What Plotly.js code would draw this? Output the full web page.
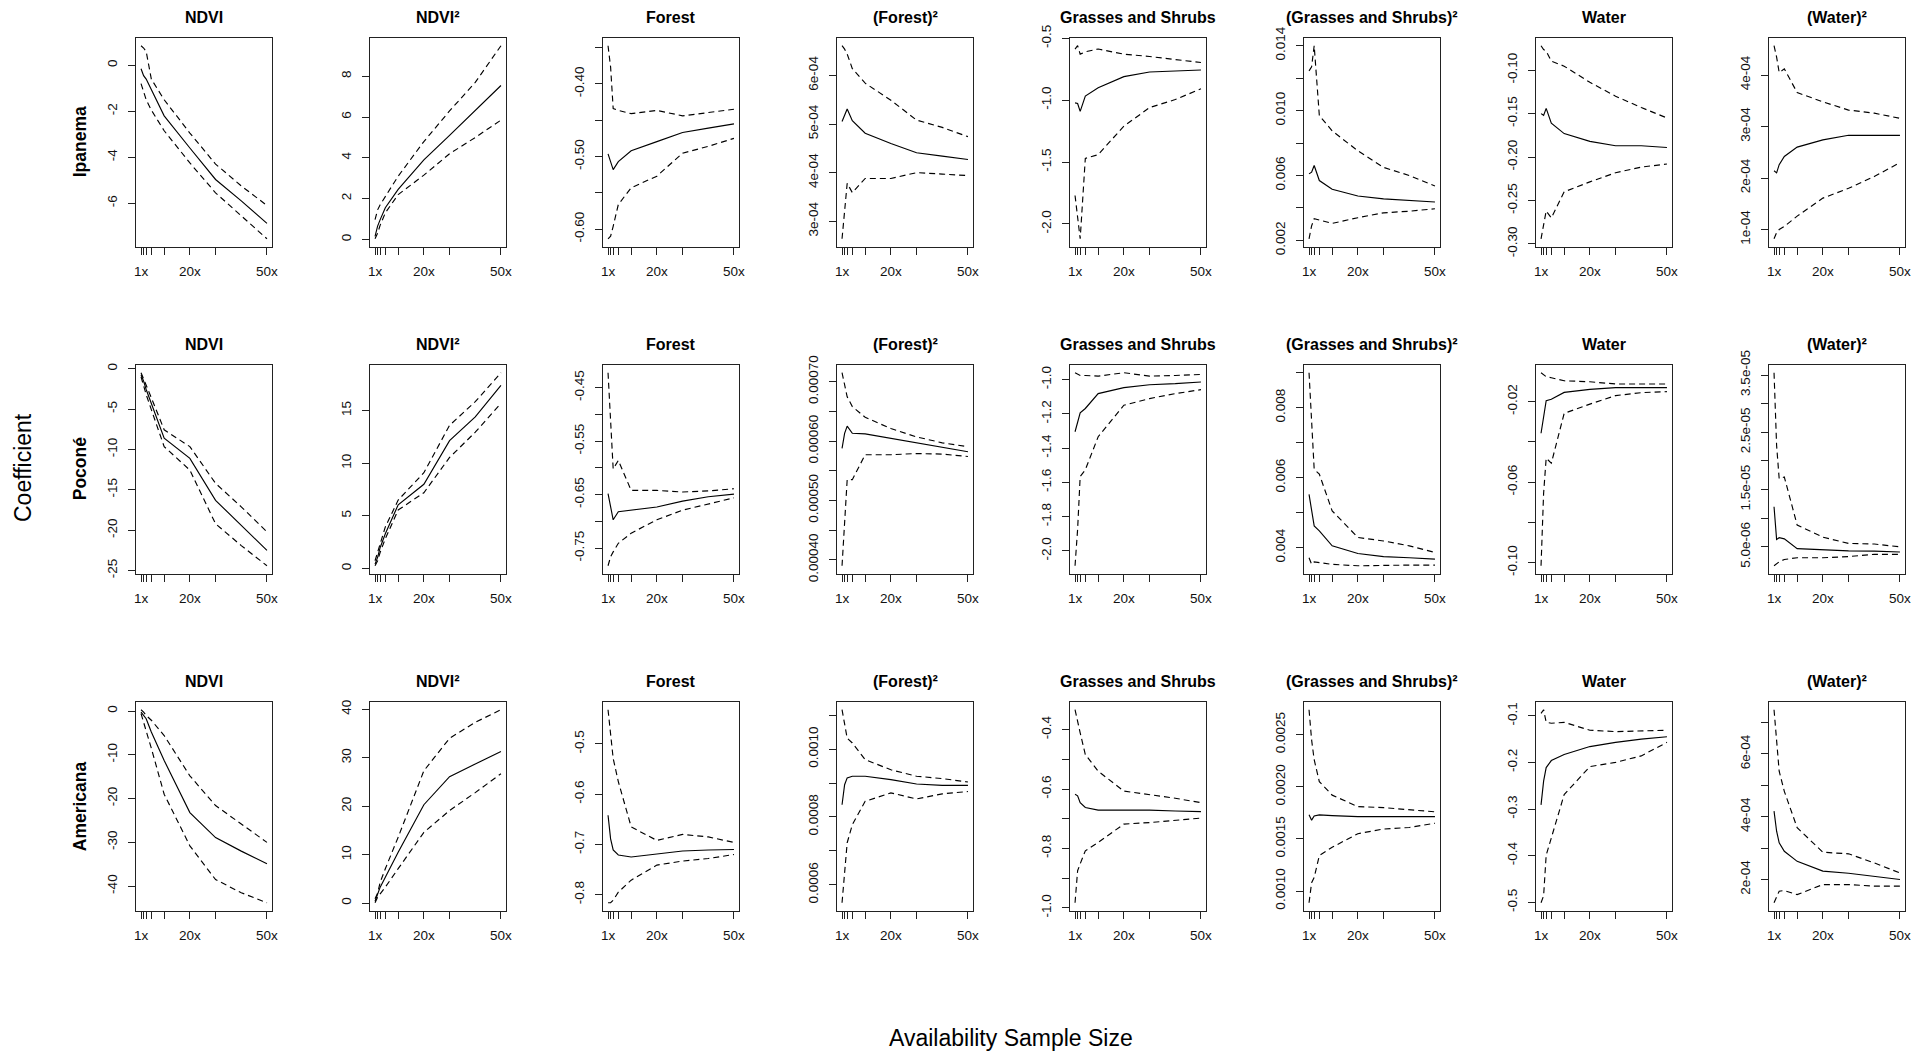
<!DOCTYPE html>
<html><head><meta charset="utf-8">
<script src="https://cdn.plot.ly/plotly-3.0.1.min.js"></script>
<style>html,body{margin:0;padding:0;background:#fff;} #chart{width:1930px;height:1055px;}</style>
</head><body><div id="chart"></div>
<script>
// ---------- categories / axes ----------
const sampleSizes = [1, 2, 3, 5, 10, 20, 30, 40, 50];
const xTickVals = [1, 2, 3, 5, 10, 20, 30, 50];
const xTickText = ['1x', '', '', '', '', '20x', '', '50x'];
const sites = ['Ipanema', 'Poconé', 'Americana'];
const variables = ['NDVI', 'NDVI²', 'Forest', '(Forest)²', 'Grasses and Shrubs', '(Grasses and Shrubs)²', 'Water', '(Water)²'];
const xTitle = 'Availability Sample Size';
const yTitle = 'Coefficient';

// ---------- Ipanema ----------
const I_ndvi_est = [-0.15, -0.45, -0.6, -1.05, -2.2, -3.6, -4.97, -5.9, -6.88];
const I_ndvi_hi  = [0.85, 0.75, 0.6, -0.6, -1.5, -2.95, -4.3, -5.25, -6.1];
const I_ndvi_lo  = [-0.8, -1.13, -1.5, -1.95, -2.85, -4.25, -5.55, -6.55, -7.55];
const I_ndvi2_est = [0.15, 0.65, 0.97, 1.55, 2.45, 3.9, 5.1, 6.3, 7.55];
const I_ndvi2_hi  = [0.97, 1.45, 1.7, 2.1, 3.1, 4.8, 6.3, 7.7, 9.5];
const I_ndvi2_lo  = [0.03, 0.3, 0.7, 1.3, 2.2, 3.15, 4.2, 5.0, 5.85];
const I_for_est = [-0.4964, -0.509, -0.518, -0.507, -0.492, -0.4795, -0.467, -0.461, -0.455];
const I_for_hi  = [-0.3475, -0.377, -0.434, -0.4365, -0.441, -0.4365, -0.444, -0.440, -0.435];
const I_for_lo  = [-0.6132, -0.6096, -0.596, -0.566, -0.543, -0.527, -0.4954, -0.486, -0.475];
const I_for2_est = [5.05e-4, 5.18e-4, 5.31e-4, 5.07e-4, 4.81e-4, 4.60e-4, 4.41e-4, 4.34e-4, 4.27e-4];
const I_for2_hi  = [6.61e-4, 6.54e-4, 6.44e-4, 6.14e-4, 5.84e-4, 5.49e-4, 5.08e-4, 4.93e-4, 4.74e-4];
const I_for2_lo  = [2.64e-4, 3.24e-4, 3.78e-4, 3.59e-4, 3.88e-4, 3.88e-4, 4.0e-4, 3.97e-4, 3.94e-4];
const I_gs_est = [-1.022, -1.027, -1.09, -0.967, -0.90, -0.81, -0.772, -0.764, -0.756];
const I_gs_hi  = [-0.587, -0.56, -0.628, -0.609, -0.587, -0.628, -0.647, -0.669, -0.696];
const I_gs_lo  = [-1.77, -1.95, -2.12, -1.47, -1.44, -1.21, -1.06, -0.995, -0.908];
const I_gs2_est = [0.0061, 0.00621, 0.00662, 0.00569, 0.00515, 0.00474, 0.00456, 0.00447, 0.00437];
const I_gs2_hi  = [0.01245, 0.0127, 0.0140, 0.0097, 0.00875, 0.00752, 0.0065, 0.0060, 0.00535];
const I_gs2_lo  = [0.0021, 0.0029, 0.00334, 0.00326, 0.00305, 0.0034, 0.0037, 0.0038, 0.00395];
const I_wat_est = [-0.150, -0.152, -0.144, -0.161, -0.173, -0.182, -0.187, -0.187, -0.189];
const I_wat_hi  = [-0.0719, -0.0764, -0.078, -0.0897, -0.0954, -0.114, -0.130, -0.143, -0.155];
const I_wat_lo  = [-0.294, -0.280, -0.262, -0.270, -0.240, -0.2285, -0.218, -0.2115, -0.208];
const I_wat2_est = [2.14e-4, 2.10e-4, 2.26e-4, 2.42e-4, 2.60e-4, 2.74e-4, 2.83e-4, 2.83e-4, 2.83e-4];
const I_wat2_hi  = [4.57e-4, 4.35e-4, 4.05e-4, 4.12e-4, 3.66e-4, 3.48e-4, 3.32e-4, 3.26e-4, 3.16e-4];
const I_wat2_lo  = [0.82e-4, 0.94e-4, 1.0e-4, 1.06e-4, 1.26e-4, 1.61e-4, 1.80e-4, 2.03e-4, 2.30e-4];

// ---------- Poconé ----------
const P_ndvi_est = [-0.75, -1.54, -2.58, -4.24, -8.6, -11.1, -16.3, -19.4, -22.5];
const P_ndvi_hi  = [-0.5, -1.33, -2.16, -3.6, -7.57, -9.65, -14.2, -17.1, -20.2];
const P_ndvi_lo  = [-1.0, -2.16, -3.2, -5.07, -9.65, -12.56, -19.2, -21.9, -24.4];
const P_ndvi2_est = [0.42, 1.06, 2.0, 3.3, 6.05, 8.0, 12.15, 14.4, 17.4];
const P_ndvi2_hi  = [0.74, 1.54, 2.5, 3.95, 6.5, 9.1, 13.6, 15.85, 18.6];
const P_ndvi2_lo  = [0.26, 0.74, 1.54, 2.83, 5.56, 7.2, 10.55, 12.95, 15.7];
const P_for_est = [-0.648, -0.673, -0.697, -0.682, -0.679, -0.673, -0.662, -0.654, -0.649];
const P_for_hi  = [-0.422, -0.512, -0.602, -0.586, -0.642, -0.642, -0.645, -0.643, -0.639];
const P_for_lo  = [-0.783, -0.766, -0.757, -0.741, -0.722, -0.697, -0.679, -0.667, -0.656];
const P_for2_est = [5.877e-4, 6.13e-4, 6.25e-4, 6.13e-4, 6.12e-4, 6.045e-4, 5.97e-4, 5.905e-4, 5.82e-4];
const P_for2_hi  = [7.15e-4, 6.96e-4, 6.745e-4, 6.58e-4, 6.40e-4, 6.21e-4, 6.07e-4, 5.97e-4, 5.905e-4];
const P_for2_lo  = [3.90e-4, 4.70e-4, 5.35e-4, 5.35e-4, 5.77e-4, 5.77e-4, 5.79e-4, 5.78e-4, 5.74e-4];
const P_gs_est = [-1.304, -1.246, -1.194, -1.168, -1.081, -1.046, -1.029, -1.023, -1.0135];
const P_gs_hi  = [-0.959, -0.965, -0.975, -0.975, -0.979, -0.959, -0.979, -0.975, -0.969];
const P_gs_lo  = [-2.087, -1.874, -1.565, -1.526, -1.333, -1.149, -1.110, -1.081, -1.058];
const P_gs2_est = [0.00552, 0.00505, 0.00462, 0.00448, 0.00405, 0.00383, 0.00374, 0.00371, 0.00367];
const P_gs2_hi  = [0.0090, 0.00763, 0.00624, 0.0061, 0.00505, 0.00429, 0.00419, 0.00405, 0.00386];
const P_gs2_lo  = [0.00371, 0.00352, 0.00359, 0.00357, 0.00352, 0.00348, 0.0035, 0.0035, 0.0035];
const P_wat_est = [-0.0357, -0.0266, -0.0195, -0.0188, -0.0154, -0.0139, -0.0130, -0.0130, -0.0130];
const P_wat_hi  = [-0.0056, -0.0068, -0.0076, -0.0081, -0.0096, -0.0101, -0.0112, -0.0112, -0.0112];
const P_wat_lo  = [-0.1016, -0.0655, -0.0481, -0.0506, -0.0258, -0.0212, -0.017, -0.0155, -0.015];
const P_wat2_est = [1.20e-5, 6.3e-6, 6.6e-6, 6.4e-6, 4.7e-6, 4.5e-6, 4.3e-6, 4.25e-6, 4.1e-6];
const P_wat2_hi  = [3.54e-5, 2.27e-5, 1.69e-5, 1.72e-5, 8.8e-6, 6.7e-6, 5.6e-6, 5.5e-6, 5.0e-6];
const P_wat2_lo  = [1.7e-6, 2.1e-6, 2.4e-6, 2.8e-6, 3.1e-6, 3.1e-6, 3.3e-6, 3.7e-6, 3.7e-6];

// ---------- Americana ----------
const A_ndvi_est = [-0.23, -1.0, -1.76, -4.8, -11.3, -23.2, -28.9, -32.0, -34.9];
const A_ndvi_hi  = [0.3, -0.23, -1.0, -2.1, -5.6, -14.8, -21.6, -25.8, -30.0];
const A_ndvi_lo  = [-0.6, -2.5, -4.5, -8.5, -19.0, -30.8, -38.5, -41.5, -43.8];
const A_ndvi2_est = [0.4, 1.9, 3.3, 5.35, 10.5, 20.3, 26.1, 28.7, 31.3];
const A_ndvi2_hi  = [0.9, 2.05, 4.3, 7.1, 13.6, 27.3, 34.0, 37.3, 39.9];
const A_ndvi2_lo  = [0.07, 1.2, 1.9, 3.3, 7.1, 14.6, 19.1, 22.8, 26.7];
const A_for_est = [-0.642, -0.689, -0.711, -0.721, -0.725, -0.719, -0.713, -0.711, -0.710];
const A_for_hi  = [-0.432, -0.475, -0.529, -0.575, -0.665, -0.692, -0.680, -0.685, -0.696];
const A_for_lo  = [-0.816, -0.816, -0.811, -0.795, -0.771, -0.741, -0.733, -0.728, -0.720];
const A_for2_est = [8.36e-4, 8.95e-4, 9.15e-4, 9.2e-4, 9.2e-4, 9.1e-4, 8.97e-4, 8.93e-4, 8.93e-4];
const A_for2_hi  = [11.16e-4, 10.67e-4, 10.32e-4, 10.18e-4, 9.69e-4, 9.39e-4, 9.20e-4, 9.13e-4, 9.03e-4];
const A_for2_lo  = [5.47e-4, 6.5e-4, 7.24e-4, 7.77e-4, 8.46e-4, 8.71e-4, 8.53e-4, 8.68e-4, 8.75e-4];
const A_gs_est = [-0.618, -0.623, -0.646, -0.662, -0.671, -0.671, -0.671, -0.674, -0.676];
const A_gs_hi  = [-0.333, -0.367, -0.411, -0.484, -0.540, -0.607, -0.618, -0.631, -0.646];
const A_gs_lo  = [-0.983, -0.875, -0.852, -0.808, -0.780, -0.718, -0.713, -0.705, -0.698];
const A_gs2_est = [1.733e-3, 1.68e-3, 1.72e-3, 1.73e-3, 1.723e-3, 1.714e-3, 1.714e-3, 1.714e-3, 1.714e-3];
const A_gs2_hi  = [2.74e-3, 2.45e-3, 2.26e-3, 2.05e-3, 1.92e-3, 1.81e-3, 1.80e-3, 1.78e-3, 1.76e-3];
const A_gs2_lo  = [0.887e-3, 1.08e-3, 1.13e-3, 1.34e-3, 1.42e-3, 1.55e-3, 1.595e-3, 1.61e-3, 1.65e-3];
const A_wat_est = [-0.291, -0.240, -0.211, -0.196, -0.183, -0.166, -0.157, -0.150, -0.145];
const A_wat_hi  = [-0.095, -0.087, -0.114, -0.116, -0.114, -0.131, -0.134, -0.132, -0.131];
const A_wat_lo  = [-0.501, -0.486, -0.399, -0.363, -0.269, -0.209, -0.200, -0.186, -0.157];
const A_wat2_est = [4.18e-4, 3.54e-4, 3.17e-4, 2.90e-4, 2.58e-4, 2.27e-4, 2.20e-4, 2.11e-4, 2.0e-4];
const A_wat2_hi  = [7.41e-4, 6.51e-4, 5.45e-4, 4.81e-4, 3.65e-4, 2.87e-4, 2.82e-4, 2.53e-4, 2.21e-4];
const A_wat2_lo  = [1.26e-4, 1.42e-4, 1.63e-4, 1.65e-4, 1.52e-4, 1.84e-4, 1.84e-4, 1.79e-4, 1.79e-4];

// ---------- y tick values / labels (per panel) ----------
const I_ndvi_tv = [-6, -4, -2, 0];            const I_ndvi_tl = ['-6', '-4', '-2', '0'];
const I_ndvi2_tv = [0, 2, 4, 6, 8];           const I_ndvi2_tl = ['0', '2', '4', '6', '8'];
const I_for_tv = [-0.60, -0.55, -0.50, -0.45, -0.40, -0.35]; const I_for_tl = ['-0.60', '', '-0.50', '', '-0.40', ''];
const I_for2_tv = [3e-4, 4e-4, 5e-4, 6e-4];  const I_for2_tl = ['3e-04', '4e-04', '5e-04', '6e-04'];
const I_gs_tv = [-2.0, -1.5, -1.0, -0.5];     const I_gs_tl = ['-2.0', '-1.5', '-1.0', '-0.5'];
const I_gs2_tv = [0.002, 0.004, 0.006, 0.008, 0.010, 0.012, 0.014]; const I_gs2_tl = ['0.002', '', '0.006', '', '0.010', '', '0.014'];
const I_wat_tv = [-0.30, -0.25, -0.20, -0.15, -0.10]; const I_wat_tl = ['-0.30', '-0.25', '-0.20', '-0.15', '-0.10'];
const I_wat2_tv = [1e-4, 2e-4, 3e-4, 4e-4];  const I_wat2_tl = ['1e-04', '2e-04', '3e-04', '4e-04'];
const P_ndvi_tv = [-25, -20, -15, -10, -5, 0]; const P_ndvi_tl = ['-25', '-20', '-15', '-10', '-5', '0'];
const P_ndvi2_tv = [0, 5, 10, 15];            const P_ndvi2_tl = ['0', '5', '10', '15'];
const P_for_tv = [-0.75, -0.70, -0.65, -0.60, -0.55, -0.50, -0.45]; const P_for_tl = ['-0.75', '', '-0.65', '', '-0.55', '', '-0.45'];
const P_for2_tv = [0.00040, 0.00045, 0.00050, 0.00055, 0.00060, 0.00065, 0.00070]; const P_for2_tl = ['0.00040', '', '0.00050', '', '0.00060', '', '0.00070'];
const P_gs_tv = [-2.0, -1.8, -1.6, -1.4, -1.2, -1.0]; const P_gs_tl = ['-2.0', '-1.8', '-1.6', '-1.4', '-1.2', '-1.0'];
const P_gs2_tv = [0.004, 0.005, 0.006, 0.007, 0.008, 0.009]; const P_gs2_tl = ['0.004', '', '0.006', '', '0.008', ''];
const P_wat_tv = [-0.10, -0.08, -0.06, -0.04, -0.02]; const P_wat_tl = ['-0.10', '', '-0.06', '', '-0.02'];
const P_wat2_tv = [5e-6, 1e-5, 1.5e-5, 2e-5, 2.5e-5, 3e-5, 3.5e-5]; const P_wat2_tl = ['5.0e-06', '', '1.5e-05', '', '2.5e-05', '', '3.5e-05'];
const A_ndvi_tv = [-40, -30, -20, -10, 0];    const A_ndvi_tl = ['-40', '-30', '-20', '-10', '0'];
const A_ndvi2_tv = [0, 10, 20, 30, 40];       const A_ndvi2_tl = ['0', '10', '20', '30', '40'];
const A_for_tv = [-0.8, -0.7, -0.6, -0.5];    const A_for_tl = ['-0.8', '-0.7', '-0.6', '-0.5'];
const A_for2_tv = [0.0006, 0.0007, 0.0008, 0.0009, 0.0010, 0.0011]; const A_for2_tl = ['0.0006', '', '0.0008', '', '0.0010', ''];
const A_gs_tv = [-1.0, -0.9, -0.8, -0.7, -0.6, -0.5, -0.4]; const A_gs_tl = ['-1.0', '', '-0.8', '', '-0.6', '', '-0.4'];
const A_gs2_tv = [0.0010, 0.0015, 0.0020, 0.0025]; const A_gs2_tl = ['0.0010', '0.0015', '0.0020', '0.0025'];
const A_wat_tv = [-0.5, -0.4, -0.3, -0.2, -0.1]; const A_wat_tl = ['-0.5', '-0.4', '-0.3', '-0.2', '-0.1'];
const A_wat2_tv = [2e-4, 3e-4, 4e-4, 5e-4, 6e-4, 7e-4]; const A_wat2_tl = ['2e-04', '', '4e-04', '', '6e-04', ''];

// panel table (row-major: site, variable)
const panels = [
  [I_ndvi_est, I_ndvi_lo, I_ndvi_hi, I_ndvi_tv, I_ndvi_tl],
  [I_ndvi2_est, I_ndvi2_lo, I_ndvi2_hi, I_ndvi2_tv, I_ndvi2_tl],
  [I_for_est, I_for_lo, I_for_hi, I_for_tv, I_for_tl],
  [I_for2_est, I_for2_lo, I_for2_hi, I_for2_tv, I_for2_tl],
  [I_gs_est, I_gs_lo, I_gs_hi, I_gs_tv, I_gs_tl],
  [I_gs2_est, I_gs2_lo, I_gs2_hi, I_gs2_tv, I_gs2_tl],
  [I_wat_est, I_wat_lo, I_wat_hi, I_wat_tv, I_wat_tl],
  [I_wat2_est, I_wat2_lo, I_wat2_hi, I_wat2_tv, I_wat2_tl],
  [P_ndvi_est, P_ndvi_lo, P_ndvi_hi, P_ndvi_tv, P_ndvi_tl],
  [P_ndvi2_est, P_ndvi2_lo, P_ndvi2_hi, P_ndvi2_tv, P_ndvi2_tl],
  [P_for_est, P_for_lo, P_for_hi, P_for_tv, P_for_tl],
  [P_for2_est, P_for2_lo, P_for2_hi, P_for2_tv, P_for2_tl],
  [P_gs_est, P_gs_lo, P_gs_hi, P_gs_tv, P_gs_tl],
  [P_gs2_est, P_gs2_lo, P_gs2_hi, P_gs2_tv, P_gs2_tl],
  [P_wat_est, P_wat_lo, P_wat_hi, P_wat_tv, P_wat_tl],
  [P_wat2_est, P_wat2_lo, P_wat2_hi, P_wat2_tv, P_wat2_tl],
  [A_ndvi_est, A_ndvi_lo, A_ndvi_hi, A_ndvi_tv, A_ndvi_tl],
  [A_ndvi2_est, A_ndvi2_lo, A_ndvi2_hi, A_ndvi2_tv, A_ndvi2_tl],
  [A_for_est, A_for_lo, A_for_hi, A_for_tv, A_for_tl],
  [A_for2_est, A_for2_lo, A_for2_hi, A_for2_tv, A_for2_tl],
  [A_gs_est, A_gs_lo, A_gs_hi, A_gs_tv, A_gs_tl],
  [A_gs2_est, A_gs2_lo, A_gs2_hi, A_gs2_tv, A_gs2_tl],
  [A_wat_est, A_wat_lo, A_wat_hi, A_wat_tv, A_wat_tl],
  [A_wat2_est, A_wat2_lo, A_wat2_hi, A_wat2_tv, A_wat2_tl]
];

// ---------- layout geometry ----------
const W = 1930, H = 1055;
const colLeft = [136, 370, 603, 837, 1070, 1304, 1536, 1769];
const panelW = 136;
const rowTop = [38, 365, 702];
const panelH = 208.5;
const FONT = 'Liberation Sans, Arial, Helvetica, sans-serif';
const INK = '#111';

const traces = [];
const layout = {
  width: W, height: H,
  margin: {l: 0, r: 0, t: 0, b: 0},
  paper_bgcolor: '#fff', plot_bgcolor: '#fff',
  showlegend: false, hovermode: false,
  font: {family: FONT, size: 13.5, color: INK},
  annotations: []
};

function pad4(lo, hi) { const d = (hi - lo) * 0.04; return [lo - d, hi + d]; }
const xRange = pad4(Math.min(...sampleSizes), Math.max(...sampleSizes));

panels.forEach((p, k) => {
  const r = Math.floor(k / 8), c = k % 8;
  const id = k === 0 ? '' : String(k + 1);
  const [est, lo, hi, tv, tl] = p;
  const all = est.concat(lo, hi);
  const yRange = pad4(Math.min(...all), Math.max(...all));
  const xa = 'x' + id, ya = 'y' + id;
  const lineSpec = [
    {y: est, dash: 'solid'},
    {y: lo, dash: '6px,4px'},
    {y: hi, dash: '6px,4px'}
  ];
  lineSpec.forEach(s => traces.push({
    type: 'scatter', mode: 'lines', x: sampleSizes, y: s.y,
    xaxis: xa, yaxis: ya,
    line: {color: '#000', width: 1.15, dash: s.dash},
    hoverinfo: 'skip'
  }));
  const L = colLeft[c], T = rowTop[r];
  layout['xaxis' + id] = {
    domain: [L / W, (L + panelW) / W], anchor: ya, range: xRange,
    tickmode: 'array', tickvals: xTickVals, ticktext: xTickText,
    ticks: 'outside', ticklen: 7, tickwidth: 1, tickcolor: '#222',
    showline: true, mirror: true, linecolor: '#222', linewidth: 1.4,
    showgrid: false, zeroline: false, fixedrange: true,
    tickfont: {family: FONT, size: 13.5, color: INK}, ticklabelstandoff: 5
  };
  layout['yaxis' + id] = {
    domain: [1 - (T + panelH) / H, 1 - T / H], anchor: xa, range: yRange,
    tickmode: 'array', tickvals: tv, ticktext: tl, tickangle: -90,
    ticks: 'outside', ticklen: 7, tickwidth: 1, tickcolor: '#222',
    showline: true, mirror: true, linecolor: '#222', linewidth: 1.4,
    showgrid: false, zeroline: false, fixedrange: true,
    tickfont: {family: FONT, size: 13.5, color: INK}, ticklabelstandoff: 5
  };
  layout.annotations.push({
    text: '<b>' + variables[c] + '</b>', xref: 'paper', yref: 'paper',
    x: (L + panelW / 2) / W, y: 1 - (T - 20.5) / H,
    xanchor: 'center', yanchor: 'middle', showarrow: false,
    font: {family: FONT, size: 16, color: '#000'}
  });
});

sites.forEach((s, r) => {
  layout.annotations.push({
    text: '<b>' + s + '</b>', xref: 'paper', yref: 'paper',
    x: 80 / W, y: 1 - (rowTop[r] + panelH / 2) / H,
    xanchor: 'center', yanchor: 'middle', showarrow: false, textangle: -90,
    font: {family: FONT, size: 17.5, color: '#000'}
  });
});
layout.annotations.push({
  text: yTitle, xref: 'paper', yref: 'paper', x: 23 / W, y: 1 - 468 / H,
  xanchor: 'center', yanchor: 'middle', showarrow: false, textangle: -90,
  font: {family: FONT, size: 23, color: '#000'}
});
layout.annotations.push({
  text: xTitle, xref: 'paper', yref: 'paper', x: 1011 / W, y: 1 - 1038 / H,
  xanchor: 'center', yanchor: 'middle', showarrow: false,
  font: {family: FONT, size: 23, color: '#000'}
});

Plotly.newPlot('chart', traces, layout, {staticPlot: true, displayModeBar: false});
</script>
</body></html>
